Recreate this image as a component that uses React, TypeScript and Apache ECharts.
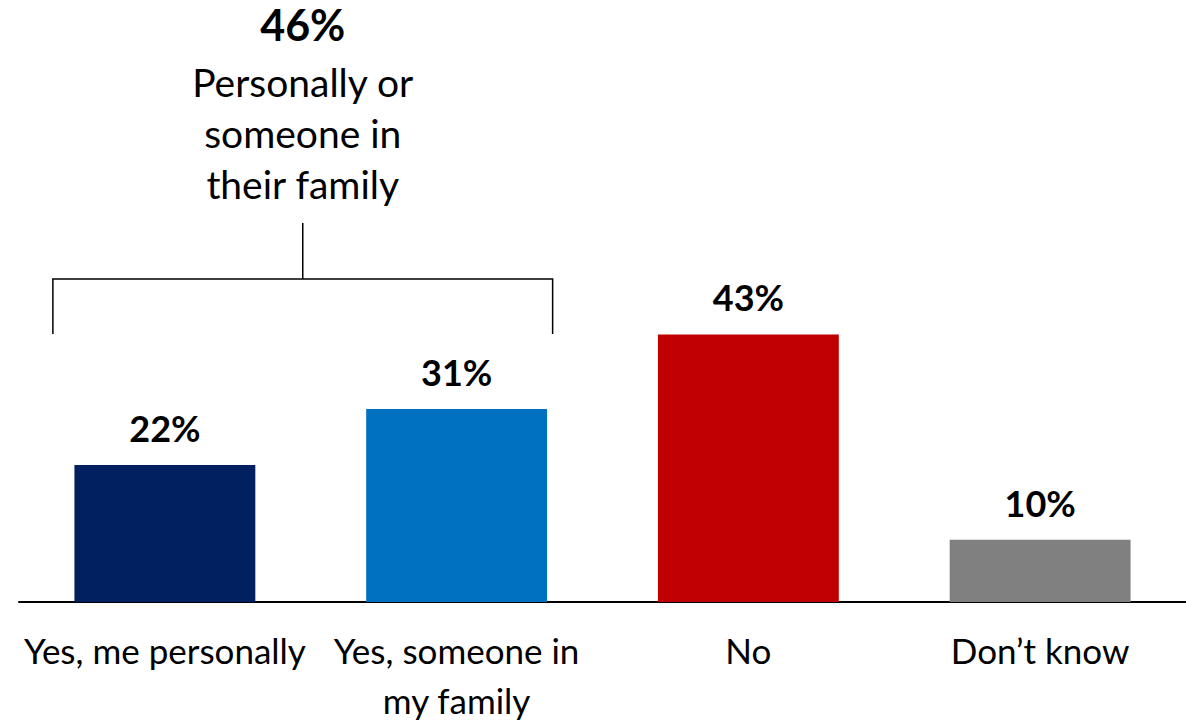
import React, { useEffect, useRef } from "react";
import * as echarts from "echarts";

const categories = ["Yes, me personally", "Yes, someone in\nmy family", "No", "Don\u2019t know"];
const values = [22, 31, 43, 10];
const barColors = ["#002060", "#0070C0", "#C00000", "#808080"];
const bracketTotal = "46%";
const bracketLines = ["Personally or", "someone in", "their family"];

const FONT = "Lato";

export default function App() {
  const ref = useRef<HTMLDivElement>(null);
  useEffect(() => {
    if (!ref.current) return;
    const chart = echarts.init(ref.current, undefined, { renderer: "svg" });
    chart.setOption({
      animation: false,
      grid: { left: 19, width: 1176, top: 42, height: 570 },
      xAxis: {
        type: "category",
        data: categories,
        axisLine: { show: true, lineStyle: { color: "#000", width: 2 } },
        axisTick: { show: false },
        axisLabel: {
          interval: 0,
          color: "#000",
          fontFamily: FONT,
          fontSize: 35,
          lineHeight: 50,
          margin: 23,
          verticalAlign: "top",
        },
      },
      yAxis: { type: "value", min: 0, max: 90, show: false, splitLine: { show: false } },
      series: [
        {
          type: "bar",
          barWidth: "62%",
          data: values.map((v, i) => ({ value: v, itemStyle: { color: barColors[i] } })),
          label: {
            show: true,
            position: "top",
            distance: 17,
            formatter: "{c}%",
            color: "#000",
            fontFamily: FONT,
            fontWeight: "bold",
            fontSize: 36,
            lineHeight: 40,
          },
        },
      ],
    });

    const c0 = chart.convertToPixel({ xAxisIndex: 0 }, 0) as number;
    const c1 = chart.convertToPixel({ xAxisIndex: 0 }, 1) as number;
    const xl = c0 - 112;
    const xr = c1 + 96;
    const xm = (xl + xr) / 2;
    const yH = 279;
    const yB = 334;
    const yT = 223;
    const stroke = { stroke: "#000", lineWidth: 1.5 };
    chart.setOption({
      graphic: [
        { type: "polyline", shape: { points: [[xl, yB], [xl, yH], [xr, yH], [xr, yB]] }, style: { ...stroke, fill: null } },
        { type: "line", shape: { x1: xm, y1: yH, x2: xm, y2: yT }, style: stroke },
        {
          type: "text",
          x: xm,
          y: 24,
          style: { text: bracketTotal, fill: "#000", font: `bold 43px ${FONT}`, align: "center", verticalAlign: "middle" },
        },
        ...bracketLines.map((t, i) => ({
          type: "text",
          x: xm,
          y: 82 + i * 51,
          style: { text: t, fill: "#000", font: `39px ${FONT}`, align: "center", verticalAlign: "middle" },
        })),
      ],
    });
    return () => chart.dispose();
  }, []);
  return <div ref={ref} style={{ position: "fixed", left: 0, top: 0, width: 1186, height: 725, background: "#fff" }} />;
}
